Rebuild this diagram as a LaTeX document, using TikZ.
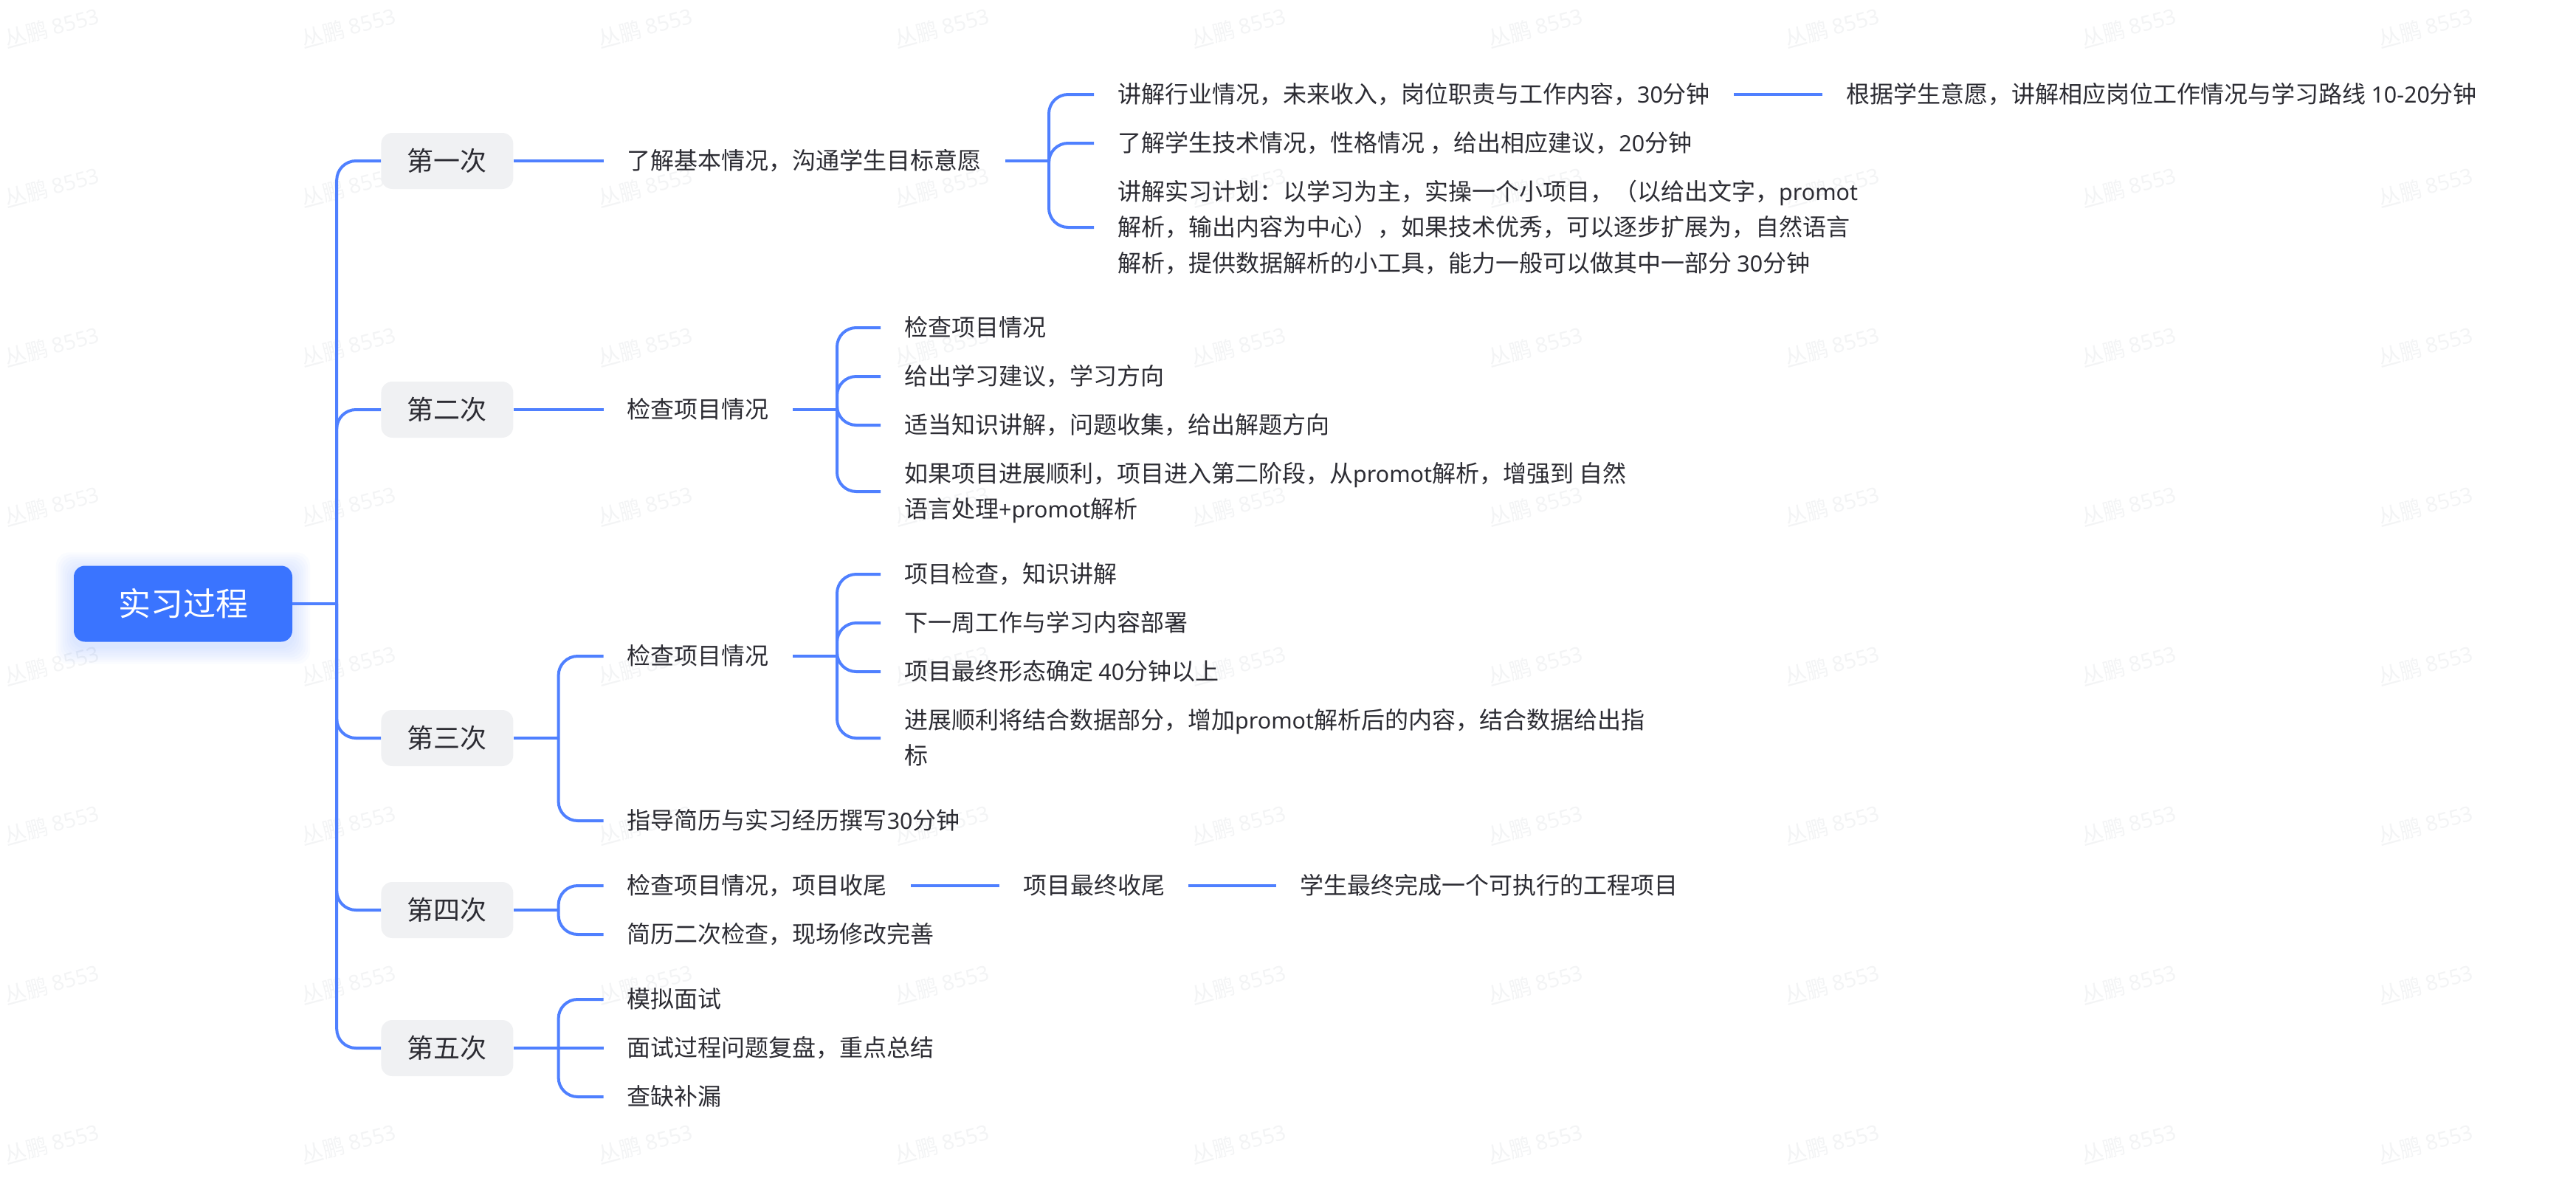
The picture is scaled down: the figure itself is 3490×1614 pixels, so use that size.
\documentclass[tikz,border=0pt]{standalone}
\usepackage{fontspec}
\setmainfont{Noto Sans CJK SC}
\newfontfamily\latinfont[Scale=0.95]{Noto Sans}
\newcommand{\lat}[1]{{\latinfont #1}}
\newcommand{\topgap}{\rule{0pt}{38pt}}
\usepackage{xcolor}
\usetikzlibrary{positioning,calc}
\pgfdeclarelayer{bg}
\pgfsetlayers{bg,main}
\definecolor{rootblue}{HTML}{3A74FF}
\definecolor{linkblue}{HTML}{4F80FF}
\definecolor{boxgray}{HTML}{F0F1F3}
\definecolor{inkgray}{HTML}{2C2C33}
\definecolor{markgray}{HTML}{F3F4F5}

\begin{document}
\begin{tikzpicture}[link/.style={color=linkblue,line width=4pt},
	fork/.style={link,rounded corners=26pt},
	root node/.style={rounded corners=15pt,inner sep=0pt,fill=rootblue,text=white,
		font=\fontsize{44}{53}\selectfont,minimum width = 296pt, minimum height = 103pt},
	visit node/.style={rounded corners=15pt,inner sep=0pt,fill=boxgray,text=inkgray,
		font=\fontsize{36}{43}\selectfont,minimum width = 179pt, minimum height = 76pt},
	text node/.style={inner xsep=32pt,inner ysep=0pt,align=left,text=inkgray,
		font=\fontsize{32}{48.5}\selectfont,
		execute at begin node=\rule{0pt}{38pt},execute at end node=\strut},
	mark node/.style={inner sep=0pt,rotate=15,text=markgray,font=\fontsize{30}{32}\selectfont}]

	\useasboundingbox (0pt,0pt) rectangle (3490pt,-1614pt);

	\node[root node] (root) at (248pt,-818pt) {实习过程};

	\node[visit node] (s1) [right = 120pt of root, yshift=600pt] {第一次};
	\node[visit node] (s2) [right = 120pt of root, yshift=263pt] {第二次};
	\node[visit node] (s3) [right = 120pt of root, yshift=-182pt] {第三次};
	\node[visit node] (s4) [right = 120pt of root, yshift=-415pt] {第四次};
	\node[visit node] (s5) [right = 120pt of root, yshift=-602pt] {第五次};

	% first visit
	\node[text node] (t1) [right = 122pt of s1] {了解基本情况，沟通学生目标意愿};
	\node[text node] (t1a) [right = 120pt of t1, yshift=90pt] {讲解行业情况，未来收入，岗位职责与工作内容，\lat{30}分钟};
	\node[text node] (t1b) [right = 120pt of t1, yshift=24pt] {了解学生技术情况，性格情况 ，给出相应建议，\lat{20}分钟};
	\node[text node] (t1c) [right = 120pt of t1, yshift=-90pt] {\topgap 讲解实习计划：以学习为主，实操一个小项目，（以给出文字，\lat{promot}\\
		解析，输出内容为中心），如果技术优秀，可以逐步扩展为，自然语言\\
		解析，提供数据解析的小工具，能力一般可以做其中一部分 \lat{30}分钟};
	\node[text node] (t1d) [right = 120pt of t1a] {根据学生意愿，讲解相应岗位工作情况与学习路线 \lat{10-20}分钟};

	% second visit
	\node[text node] (t2) [right = 122pt of s2] {检查项目情况};
	\node[text node] (t2a) [right = 119pt of t2, yshift=111pt] {检查项目情况};
	\node[text node] (t2b) [right = 119pt of t2, yshift=45pt] {给出学习建议，学习方向};
	\node[text node] (t2c) [right = 119pt of t2, yshift=-21pt] {适当知识讲解，问题收集，给出解题方向};
	\node[text node] (t2d) [right = 119pt of t2, yshift=-111pt] {\topgap 如果项目进展顺利，项目进入第二阶段，从\lat{promot}解析，增强到 自然\\
		语言处理\lat{+promot}解析};

	% third visit
	\node[text node] (t3) [right = 122pt of s3, yshift=111pt] {检查项目情况};
	\node[text node] (t3a) [right = 119pt of t3, yshift=111pt] {项目检查，知识讲解};
	\node[text node] (t3b) [right = 119pt of t3, yshift=45pt] {下一周工作与学习内容部署};
	\node[text node] (t3c) [right = 119pt of t3, yshift=-21pt] {项目最终形态确定 \lat{40}分钟以上};
	\node[text node] (t3d) [right = 119pt of t3, yshift=-111pt] {\topgap 进展顺利将结合数据部分，增加\lat{promot}解析后的内容，结合数据给出指\\
		标};
	\node[text node] (t3e) [right = 122pt of s3, yshift=-112pt] {指导简历与实习经历撰写\lat{30}分钟};

	% fourth visit
	\node[text node] (t4) [right = 122pt of s4, yshift=33pt] {检查项目情况，项目收尾};
	\node[text node] (t4a) [right = 120pt of t4] {项目最终收尾};
	\node[text node] (t4b) [right = 119pt of t4a] {学生最终完成一个可执行的工程项目};
	\node[text node] (t4c) [right = 122pt of s4, yshift=-33pt] {简历二次检查，现场修改完善};

	% fifth visit
	\node[text node] (t5a) [right = 122pt of s5, yshift=66pt] {模拟面试};
	\node[text node] (t5b) [right = 122pt of s5] {面试过程问题复盘，重点总结};
	\node[text node] (t5c) [right = 122pt of s5, yshift=-66pt] {查缺补漏};

	\coordinate[right = 60pt of root] (rootfork);
	\coordinate[right = 59pt of t1] (t1fork);
	\coordinate[right = 60pt of t2] (t2fork);
	\coordinate[right = 61pt of s3] (s3fork);
	\coordinate[right = 60pt of t3] (t3fork);
	\coordinate[right = 61pt of s4] (s4fork);
	\coordinate[right = 61pt of s5] (s5fork);

	\path[link]
	(root) edge (rootfork)
	(s1) edge (t1)
	(s2) edge (t2)
	(t1a) edge (t1d)
	(t1) edge (t1fork)
	(t2) edge (t2fork)
	(s3) edge (s3fork)
	(t3) edge (t3fork)
	(s4) edge (s4fork)
	(t4) edge (t4a)
	(t4a) edge (t4b)
	(s5) edge (t5b);

	\foreach \kid in {s1,s2,s3,s4,s5} \draw[fork] (rootfork) |- (\kid);
	\foreach \kid in {t1a,t1b,t1c} \draw[fork] (t1fork) |- (\kid);
	\foreach \kid in {t2a,t2b,t2c,t2d} \draw[fork] (t2fork) |- (\kid);
	\foreach \kid in {t3,t3e} \draw[fork] (s3fork) |- (\kid);
	\foreach \kid in {t3a,t3b,t3c,t3d} \draw[fork] (t3fork) |- (\kid);
	\foreach \kid in {t4,t4c} \draw[fork] (s4fork) |- (\kid);
	\foreach \kid in {t5a,t5c} \draw[fork] (s5fork) |- (\kid);

	\begin{pgfonlayer}{bg}
	% watermark grid
	\foreach \wx in {70,472,...,3286} \foreach \wy in {37,253,...,1549}
		\node[mark node] (mark\wx-\wy) at (\wx pt,-\wy pt) {丛鹏 \lat{8553}};
	% glow under the root
	\foreach \r in {3,6,...,24}
		\fill[rootblue,opacity=.025,rounded corners=18pt]
		([xshift=-\r pt,yshift=-\r pt-6pt]root.south west) rectangle ([xshift=\r pt,yshift=\r pt-6pt]root.north east);
	\end{pgfonlayer}
\end{tikzpicture}
\end{document}
